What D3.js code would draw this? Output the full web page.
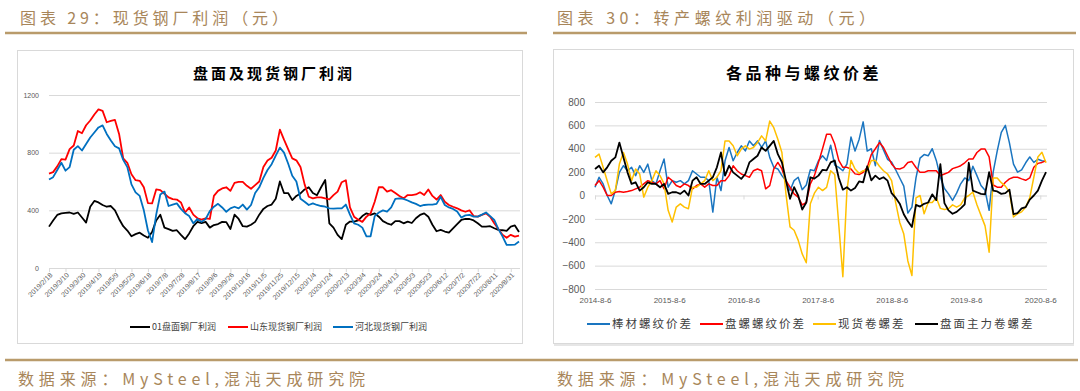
<!DOCTYPE html>
<html>
<head>
<meta charset="utf-8">
<script src="https://cdn.jsdelivr.net/npm/d3@7"></script>
<style>
  body { margin: 0; background: #fff; }
  svg { display: block; }
  text { font-family: "Noto Sans CJK SC", "Noto Sans", sans-serif; }
  .num text, text.num { font-family: "Liberation Sans", Arial, sans-serif; fill: #595959; }
</style>
</head>
<body>
<svg id="page" width="1080" height="391"></svg>
<script>
// ---- left chart: 盘面及现货钢厂利润 (one value every 5 days from 2019/2/18)
const leftStart = '2019/2/18'
const leftStep = 5
const leftTicks = ['2019/2/18', '2019/3/10', '2019/3/30', '2019/4/19', '2019/5/9', '2019/5/29', '2019/6/18',
  '2019/7/8', '2019/7/28', '2019/8/17', '2019/9/6', '2019/9/26', '2019/10/16', '2019/11/5', '2019/11/25',
  '2019/12/15', '2020/1/4', '2020/1/24', '2020/2/13', '2020/3/4', '2020/3/24', '2020/4/13', '2020/5/3',
  '2020/5/23', '2020/6/12', '2020/7/2', '2020/7/22', '2020/8/11', '2020/8/31']
const leftYTicks = [0, 400, 800, 1200]
const leftNames = ['01盘面钢厂利润', '山东现货钢厂利润', '河北现货钢厂利润']

const futuresProfit = [287, 330, 368, 379, 382, 385, 375, 385, 350, 315,
  425, 465, 455, 437, 425, 430, 400, 340, 290, 260,
  220, 235, 245, 225, 210, 250, 330, 370, 280, 270,
  258, 262, 230, 200, 240, 290, 320, 312, 320, 280,
  298, 305, 320, 318, 270, 370, 340, 290, 287, 300,
  320, 370, 410, 430, 440, 480, 600, 520, 520, 471,
  500, 517, 545, 560, 520, 505, 560, 610, 310, 280,
  230, 200, 300, 322, 322, 330, 360, 379, 368, 379,
  356, 325, 310, 300, 325, 325, 310, 322, 312, 345,
  368, 379, 356, 300, 255, 264, 253, 245, 275, 305,
  333, 340, 340, 330, 310, 287, 287, 290, 276, 264,
  262, 258, 287, 295, 250]
const shandongProfit = [655, 665, 705, 755, 752, 825, 850, 950, 935, 990,
  1023, 1065, 1100, 1090, 1011, 1020, 1027, 930, 760, 730,
  650, 609, 605, 560, 450, 448, 545, 540, 515, 490,
  478, 475, 455, 385, 420, 370, 345, 335, 345, 340,
  500, 535, 552, 560, 535, 590, 598, 598, 570, 550,
  575, 600, 700, 745, 765, 815, 960, 890, 825, 760,
  747, 700, 580, 494, 483, 490, 490, 483, 476, 505,
  530, 595, 609, 420, 356, 335, 320, 356, 379, 460,
  560, 560, 530, 540, 520, 500, 483, 506, 506, 510,
  525, 506, 545, 500, 475, 506, 460, 437, 425, 414,
  400, 390, 400, 360, 356, 368, 379, 355, 310, 270,
  230, 210, 230, 218, 225]
const hebeiProfit = [614, 630, 680, 730, 675, 700, 820, 845, 815, 860,
  905, 940, 975, 989, 930, 885, 845, 830, 750, 700,
  580, 525, 500, 400, 260, 180, 370, 510, 530, 430,
  440, 448, 410, 380, 360, 310, 340, 320, 340, 395,
  425, 445, 420, 390, 414, 425, 414, 440, 405, 437,
  520, 560, 625, 680, 720, 780, 835, 800, 725, 640,
  600, 480, 460, 437, 448, 437, 430, 425, 414, 412,
  414, 414, 440, 370, 310, 300, 280, 220, 220, 360,
  385, 400, 391, 420, 480, 483, 480, 468, 455, 445,
  430, 437, 440, 440, 445, 494, 437, 420, 410, 392,
  350, 365, 368, 356, 356, 370, 385, 360, 333, 270,
  220, 160, 160, 162, 184]

// ---- right chart: 各品种与螺纹价差 (one value every 20 days from 2014-8-6)
const rightStart = '2014-8-6'
const rightStep = 20
const rightTicks = ['2014-8-6', '2015-8-6', '2016-8-6', '2017-8-6', '2018-8-6', '2019-8-6', '2020-8-6']
const rightYTicks = [-800, -600, -400, -200, 0, 200, 400, 600, 800]
const rightNames = ['棒材螺纹价差', '盘螺螺纹价差', '现货卷螺差', '盘面主力卷螺差']

const barSpread = [71, 156, 99, 0, -71, 42, 198, 255, 212, 241,
  170, 255, 198, 269, 127, 99, 212, 312, 71, 127,
  113, 127, 99, 127, 212, 184, 156, 156, 127, -142,
  156, 42, 297, 411, 297, 368, 425, 382, 467, 425,
  467, 411, 467, 326, 241, 227, 170, 127, 42, 127,
  156, 50, 90, 220, 212, 297, 340, 300, 430, 260,
  241, 212, 269, 500, 380, 480, 630, 380, 400, 255,
  470, 390, 310, 285, 220, 150, 80, -150, -100, 150,
  320, 350, 340, 400, 300, 156, 60, 14, -42, 20,
  100, 150, 127, 250, 170, 85, 45, -127, 200, 382,
  540, 600, 450, 269, 200, 220, 280, 330, 283, 310,
  297, 290]
const wireSpread = [85, 127, 71, 0, 0, 28, 34, 28, 34, 42,
  57, 71, 99, 127, 113, 99, 127, 57, 156, 127,
  85, 71, 99, 85, 57, 85, 99, 71, 99, 85,
  85, 127, 127, 170, 255, 212, 184, 170, 156, 212,
  227, 212, 57, 85, 227, 283, 227, 127, 71, 14,
  -14, -80, -60, 100, 170, 283, 400, 524, 524, 440,
  300, 241, 241, 227, 185, 180, 198, 240, 350, 400,
  453, 411, 340, 270, 230, 227, 241, 283, 290, 240,
  198, 198, 212, 212, 212, 170, 184, 198, 230, 241,
  255, 280, 312, 312, 368, 397, 397, 330, 90, 71,
  71, 113, 142, 156, 156, 142, 130, 150, 241, 275,
  283, 297]
const coilSpotSpread = [326, 354, 241, 127, 14, 42, 269, 368, 269, 127,
  227, 184, -14, 71, 127, 212, 170, 99, -127, -227,
  -99, -71, -99, -113, 71, 71, 99, 127, 212, 127,
  156, 212, 467, 467, 425, 340, 397, 425, 397, 411,
  453, 510, 467, 637, 580, 481, 368, 14, -269, -297,
  -382, -500, -575, -71, 20, 71, 42, 70, 212, 180,
  -250, -695, 42, 300, 227, 190, 212, 212, 300, 300,
  250, 212, 184, 127, -60, -230, -330, -560, -685, -20,
  0, -156, -60, -60, -20, -110, -120, -113, -80, -100,
  -80, -20, 0, 30, -80, -170, -260, -485, 150, 150,
  110, 80, 30, -184, -156, -140, -99, -20, 156, 330,
  370, 280]
const coilFuturesSpread = [227, 255, 198, 241, 297, 326, 453, 326, 198, 99,
  113, 42, 71, 113, 99, 99, 71, 99, 14, 28,
  28, 14, 42, 0, 127, 156, 99, 99, 127, 156,
  241, 368, 170, 255, 198, 170, 142, 184, 283, 312,
  340, 411, 382, 425, 467, 354, 283, 127, -28, 71,
  0, -120, -60, 156, 145, 170, 220, 215, 283, 300,
  150, 50, 71, 42, 64, 120, 113, 250, 130, 170,
  140, 156, 127, 20, -20, -70, -160, -220, -269, -80,
  -95, -71, -60, 10, -40, 269, -65, -127, -156, -140,
  -110, -75, 280, 42, 28, 14, 10, 200, 42, 35,
  14, 20, 50, -160, -150, -110, -99, -35, 0, 42,
  127, 200]

const GOLD_TEXT = '#a8865a'
const GOLD_LINE = '#b99b6b'
const GRID = '#d9d9d9'

const svg = d3.select('#page')
const parseSlash = d3.timeParse('%Y/%m/%d')
const parseDash = d3.timeParse('%Y-%m-%d')
const makeDates = (start, step, count) => d3.range(count).map(i => d3.timeDay.offset(start, i * step))

// page frame: headings, rules, sources
const drawFrame = () => {
  const headings = [
    {text: '图表 29：现货钢厂利润（元）', x: 20, len: 268},
    {text: '图表 30：转产螺纹利润驱动（元）', x: 557, len: 318}
  ]
  headings.forEach(h => {
    svg.append('text').attr('x', h.x).attr('y', 24)
      .attr('textLength', h.len).attr('lengthAdjust', 'spacing')
      .style('font-size', '16px').attr('fill', GOLD_TEXT).text(h.text)
  })
  svg.append('line').attr('x1', 5).attr('x2', 527).attr('y1', 33).attr('y2', 33)
    .attr('stroke', GOLD_LINE).attr('stroke-width', 2.5)
  svg.append('line').attr('x1', 553).attr('x2', 1076).attr('y1', 33).attr('y2', 33)
    .attr('stroke', GOLD_LINE).attr('stroke-width', 2.5)
  svg.append('line').attr('x1', 5).attr('x2', 1078).attr('y1', 360).attr('y2', 360)
    .attr('stroke', GOLD_LINE).attr('stroke-width', 2.5)
  ;[18, 557].forEach(x => {
    svg.append('text').attr('x', x).attr('y', 385)
      .attr('textLength', 347).attr('lengthAdjust', 'spacing')
      .style('font-size', '16px').attr('fill', GOLD_TEXT).text('数据来源：MySteel,混沌天成研究院')
  })
  svg.append('rect').attr('x', 17.5).attr('y', 50.5).attr('width', 505).attr('height', 293)
    .attr('fill', 'none').attr('stroke', GRID)
  svg.append('rect').attr('x', 553.5).attr('y', 49.5).attr('width', 520).attr('height', 294)
    .attr('fill', 'none').attr('stroke', GRID)
  svg.append('line').attr('x1', 554).attr('x2', 1074).attr('y1', 345).attr('y2', 345)
    .attr('stroke', '#e6e6e6').attr('stroke-width', 2)
}

const drawTitle = (text, cx, size, spacing) => {
  svg.append('text').attr('x', cx).attr('y', 79).attr('text-anchor', 'middle')
    .style('font-size', size + 'px').style('font-weight', 'bold').style('letter-spacing', spacing + 'px')
    .attr('fill', '#000').text(text)
}

const drawLegend = (items, y, fontSize, spacing, lineLen) => {
  items.forEach(it => {
    svg.append('line').attr('x1', it.x).attr('x2', it.x + lineLen).attr('y1', y).attr('y2', y)
      .attr('stroke', it.color).attr('stroke-width', 2)
    svg.append('text').attr('x', it.x + lineLen + 2).attr('y', y).attr('dy', '0.35em')
      .style('font-size', fontSize + 'px').style('letter-spacing', spacing + 'px')
      .attr('fill', '#404040').text(it.name)
  })
}

const drawLeft = () => {
  const dates = makeDates(parseSlash(leftStart), leftStep, futuresProfit.length)
  const x = d3.scaleTime().domain([dates[0], dates[dates.length - 1]]).range([49, 519])
  const y = d3.scaleLinear().domain([0, 1200]).range([268, 95])

  const grid = svg.append('g').attr('class', 'num').attr('transform', 'translate(49,0)')
    .call(d3.axisLeft(y).tickValues(leftYTicks).tickFormat(d3.format('d')).tickSize(-471).tickPadding(10))
  grid.select('.domain').remove()
  grid.selectAll('line').attr('stroke', GRID)
  grid.selectAll('text').style('font-size', '7px')

  const tickDates = leftTicks.map(parseSlash)
  const xAxis = svg.append('g').attr('class', 'num').attr('transform', 'translate(0,268)')
    .call(d3.axisBottom(x).tickValues(tickDates).tickFormat((d, i) => leftTicks[i]).tickSize(4).tickSizeOuter(0))
  xAxis.select('.domain').attr('stroke', GRID).attr('d', 'M49,0.5H520')
  xAxis.selectAll('line').attr('stroke', GRID)
  xAxis.selectAll('text').style('font-size', '7px')
    .attr('x', 0).attr('y', 0).attr('dy', '0.3em')
    .attr('transform', 'translate(2,6) rotate(-45)').style('text-anchor', 'end')

  const series = [
    {values: futuresProfit, color: '#000000'},
    {values: shandongProfit, color: '#ff0000'},
    {values: hebeiProfit, color: '#0070c0'}
  ]
  const line = d3.line().x((d, i) => x(dates[i])).y(d => y(d))
  series.forEach(s => {
    svg.append('path').datum(s.values).attr('d', line)
      .attr('fill', 'none').attr('stroke', s.color).attr('stroke-width', 1.8)
      .attr('stroke-linejoin', 'round')
  })

  drawTitle('盘面及现货钢厂利润', 274, 15, 3)
  drawLegend([
    {x: 130, name: leftNames[0], color: '#000000'},
    {x: 228, name: leftNames[1], color: '#ff0000'},
    {x: 333, name: leftNames[2], color: '#0070c0'}
  ], 327, 9, 0, 20)
}

const drawRight = () => {
  const dates = makeDates(parseDash(rightStart), rightStep, barSpread.length)
  const x = d3.scaleTime().domain([dates[0], dates[dates.length - 1]]).range([595, 1046])
  const y = d3.scaleLinear().domain([-800, 800]).range([289, 102])

  const grid = svg.append('g').attr('class', 'num').attr('transform', 'translate(595,0)')
    .call(d3.axisLeft(y).tickValues(rightYTicks).tickSize(-452).tickPadding(10))
  grid.select('.domain').remove()
  grid.selectAll('line').attr('stroke', GRID)
  grid.selectAll('text').style('font-size', '10px')

  const tickDates = rightTicks.map(parseDash)
  const zeroTicks = svg.append('g').attr('transform', 'translate(0,' + y(0) + ')')
    .call(d3.axisBottom(x).tickValues(tickDates).tickFormat('').tickSize(4).tickSizeOuter(0))
  zeroTicks.select('.domain').remove()
  zeroTicks.selectAll('line').attr('stroke', GRID)

  const xAxis = svg.append('g').attr('class', 'num').attr('transform', 'translate(0,289)')
    .call(d3.axisBottom(x).tickValues(tickDates).tickFormat((d, i) => rightTicks[i]).tickSize(0).tickPadding(8))
  xAxis.select('.domain').remove()
  xAxis.selectAll('text').style('font-size', '8px')

  const series = [
    {values: barSpread, color: '#1a75c0', width: 1.5},
    {values: wireSpread, color: '#ff0000', width: 1.5},
    {values: coilSpotSpread, color: '#ffc000', width: 1.5},
    {values: coilFuturesSpread, color: '#000000', width: 1.8}
  ]
  const line = d3.line().x((d, i) => x(dates[i])).y(d => y(d))
  series.forEach(s => {
    svg.append('path').datum(s.values).attr('d', line)
      .attr('fill', 'none').attr('stroke', s.color).attr('stroke-width', s.width)
      .attr('stroke-linejoin', 'round')
  })

  drawTitle('各品种与螺纹价差', 804, 16, 3.5)
  drawLegend([
    {x: 587, name: rightNames[0], color: '#1a75c0'},
    {x: 700, name: rightNames[1], color: '#ff0000'},
    {x: 813, name: rightNames[2], color: '#ffc000'},
    {x: 915, name: rightNames[3], color: '#000000'}
  ], 324, 11.5, 2, 23)
}

drawFrame()
drawLeft()
drawRight()
</script>
</body>
</html>
